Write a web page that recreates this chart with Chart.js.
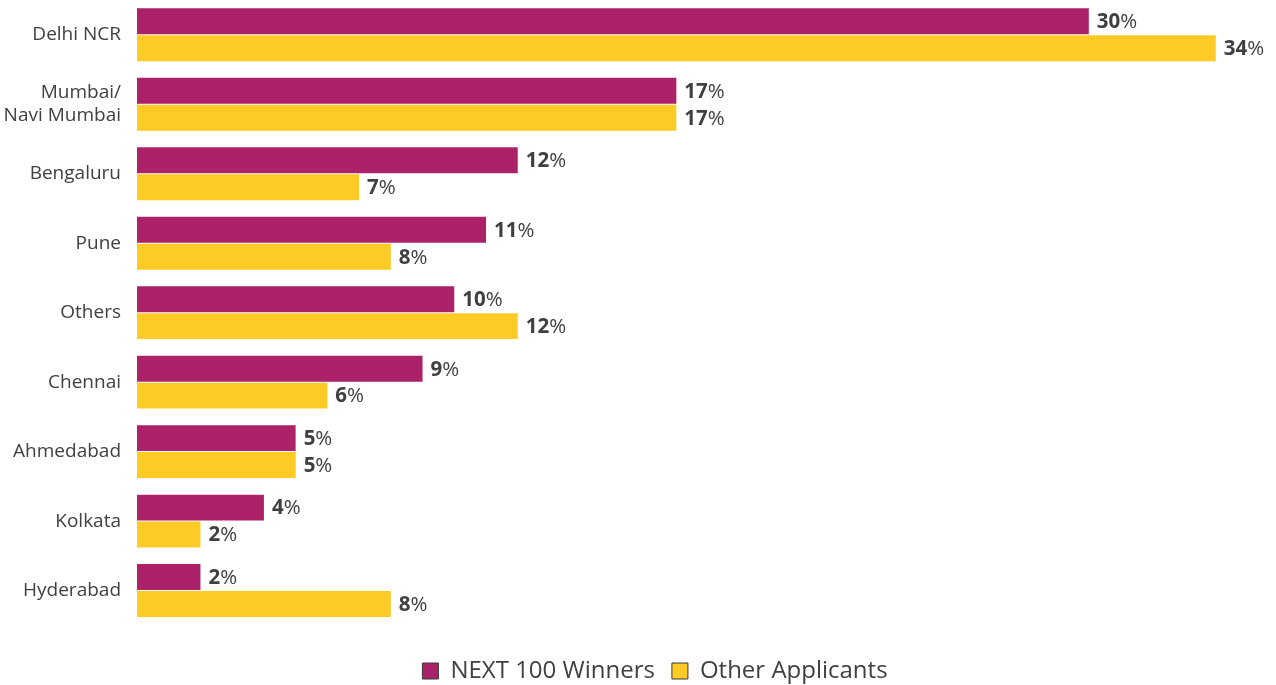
<!DOCTYPE html>
<html>
<head>
<meta charset="utf-8">
<script src="https://cdn.jsdelivr.net/npm/chart.js@4/dist/chart.umd.min.js"></script>
<style>
html,body{margin:0;padding:0;background:#fff;}
#wrap{width:1276px;height:685px;position:relative;}
</style>
</head>
<body>
<div id="wrap"><canvas id="c"></canvas></div>
<script>
const categories = ["Delhi NCR", ["Mumbai/", "Navi Mumbai"], "Bengaluru", "Pune", "Others", "Chennai", "Ahmedabad", "Kolkata", "Hyderabad"];
const seriesNames = ["NEXT 100 Winners", "Other Applicants"];
const winners = [30, 17, 12, 11, 10, 9, 5, 4, 2];
const others = [34, 17, 7, 8, 12, 6, 5, 2, 8];

const TEXT = '#404040';
const FONT = "'Open Sans', sans-serif";

const valueLabels = {
  id: 'valueLabels',
  afterDatasetsDraw(chart) {
    const ctx = chart.ctx;
    ctx.save();
    ctx.textBaseline = 'middle';
    ctx.fillStyle = TEXT;
    chart.data.datasets.forEach((ds, di) => {
      const meta = chart.getDatasetMeta(di);
      meta.data.forEach((el, i) => {
        const v = ds.data[i];
        let x = el.x + 8;
        const y = el.y + 1;
        ctx.font = "bold 20.5px " + FONT;
        const num = String(v);
        ctx.fillText(num, x, y);
        x += ctx.measureText(num).width;
        ctx.font = "20.5px " + FONT;
        ctx.fillText('%', x, y);
      });
    });
    ctx.restore();
  }
};

new Chart(document.getElementById('c'), {
  type: 'bar',
  data: {
    labels: categories,
    datasets: [
      { label: seriesNames[0], data: winners, backgroundColor: '#AC2268', borderWidth: 0,
        categoryPercentage: 0.776, barPercentage: 0.963 },
      { label: seriesNames[1], data: others, backgroundColor: '#FECB26', borderWidth: 0,
        categoryPercentage: 0.776, barPercentage: 0.963 }
    ]
  },
  options: {
    indexAxis: 'y',
    responsive: true,
    maintainAspectRatio: false,
    animation: false,
    layout: { padding: { top: -1, right: -34, bottom: -8, left: 0 } },
    scales: {
      x: {
        min: 0, max: 35.9,
        display: false,
        grid: { display: false }
      },
      y: {
        grid: { display: false, drawTicks: false },
        border: { display: false },
        afterFit(s) { s.width = 137; s.paddingTop = 0; s.paddingBottom = 0; },
        ticks: {
          padding: 16,
          color: TEXT,
          font: { family: FONT, size: 19, lineHeight: 1.22 }
        }
      }
    },
    plugins: {
      tooltip: { enabled: false },
      legend: {
        position: 'bottom',
        title: { display: true, text: ' ', padding: 0, font: { family: FONT, size: 12, lineHeight: 1.39 } },
        labels: {
          color: TEXT,
          font: { family: FONT, size: 24 },
          boxWidth: 16,
          boxHeight: 16,
          padding: 17,
          generateLabels(chart) {
            return chart.data.datasets.map((ds, i) => ({
              text: ds.label,
              fillStyle: ds.backgroundColor,
              strokeStyle: '#3a3a3a',
              lineWidth: 1,
              fontColor: TEXT,
              datasetIndex: i,
              hidden: false
            }));
          }
        }
      }
    }
  },
  plugins: [valueLabels]
});
</script>
</body>
</html>
